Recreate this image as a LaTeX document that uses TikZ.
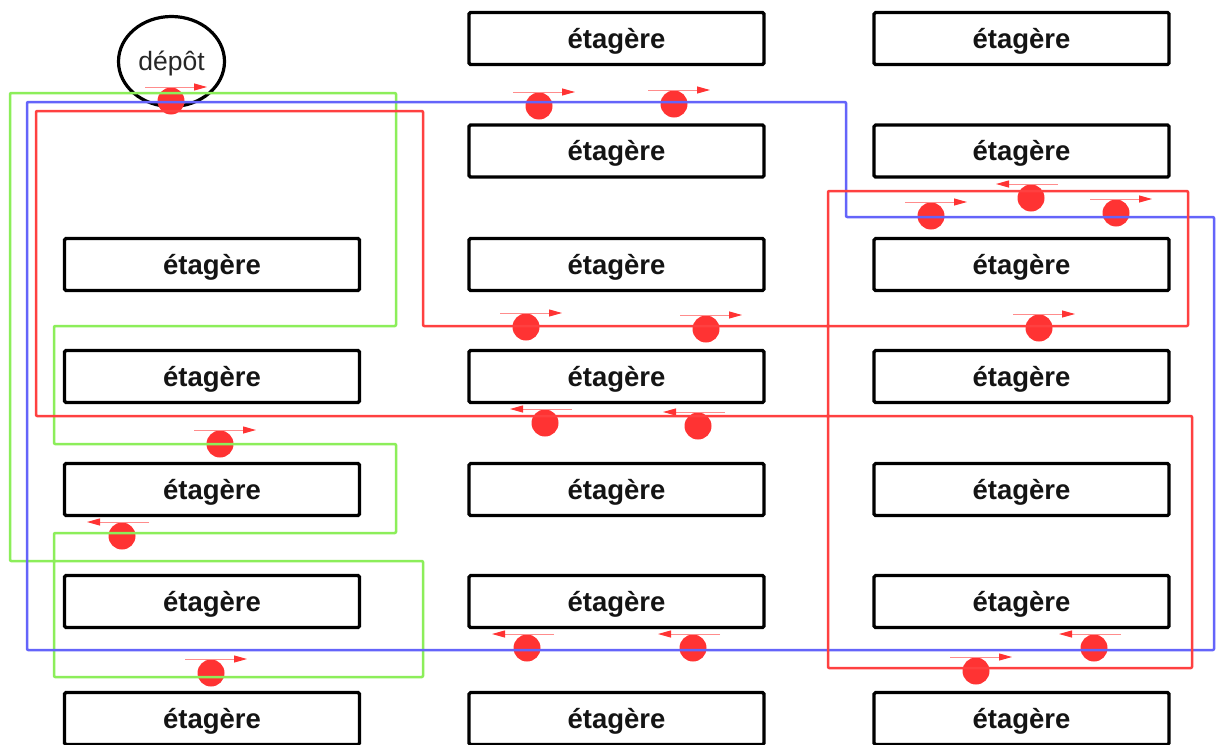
\documentclass[tikz,border=0pt]{standalone}
\usepackage{fontspec}
\setmainfont{Liberation Sans}
\usetikzlibrary{arrows.meta,shapes.geometric}
\definecolor{pgreen}{HTML}{8CEE5A}
\definecolor{pblue}{HTML}{6464FA}
\definecolor{pred}{HTML}{FF4040}
\definecolor{dotred}{HTML}{FF3333}
\definecolor{arrline}{HTML}{FF8C8C}
\newcommand{\shelftext}{\raisebox{-9.5pt}[0pt][0pt]{étagère}}
\begin{document}
\begin{tikzpicture}[x=1pt,y=-1pt,
 shelf/.style={draw=black, line width=3.2pt, rounded corners=1.5pt, fill=white, minimum width=295pt, minimum height=52pt, inner sep=0pt, font=\fontsize{27.5}{30}\selectfont\bfseries, text=black!92},
 depot/.style={ellipse, draw=black, line width=3.2pt, minimum width=106pt, minimum height=90pt, inner sep=0pt, font=\fontsize{26.5}{30}\selectfont, text=black!85},
 robot/.style={circle, fill=dotred, minimum size=27pt, inner sep=0pt},
 rarr/.style={draw=arrline, line width=1pt, -{Triangle[length=13pt,width=7pt,fill=dotred,color=dotred]}},
 route/.style={line width=2.5pt, line join=round, rounded corners=1pt}]
\fill[white] (0,0) rectangle (1220,744);
\useasboundingbox (0,0) rectangle (1220,744);
% shelves
\foreach \r/\y in {3/264.5,4/376.5,5/489.5,6/601.5,7/718.5}
  \node[shelf] (a\r) at (212,\y) {\shelftext};
\foreach \r/\y in {1/38.5,2/151,3/264.5,4/376.5,5/489.5,6/601.5,7/718.5}{
  \node[shelf] (b\r) at (616.5,\y) {\shelftext};
  \node[shelf] (c\r) at (1021.5,\y) {\shelftext};
}
% depot
\node[depot] (depot) at (171.5,61.5) {\raisebox{-8.5pt}[0pt][0pt]{dépôt}};
% robots moving right
\foreach \n/\x/\y in {1/171/101,2/539/106,3/674/104,4/931/216,6/1116/213,7/526/327,8/706/329,9/1039/328,12/220/444,14/211/673,18/976/671}{
  \node[robot] (r\n) at (\x,\y) {};
  \draw[rarr] ([shift={(-26pt,14pt)}]r\n.center) -- ++(62pt,0pt);
}
% robots moving left
\foreach \n/\x/\y in {5/1031/198,10/545/423,11/698/426,13/122/536,15/527/648,16/693/648,17/1094/648}{
  \node[robot] (r\n) at (\x,\y) {};
  \draw[rarr] ([shift={(27pt,14pt)}]r\n.center) -- ++(-62pt,0pt);
}
% routes
\draw[route, pgreen] (10,93) -- (396,93) -- (396,326) -- (54,326) -- (54,444) -- (396,444) -- (396,533) -- (54,533) -- (54,677) -- (423,677) -- (423,561) -- (10,561) -- cycle;
\draw[route, pblue] (27,102) -- (846,102) -- (846,217) -- (1214,217) -- (1214,650) -- (27,650) -- cycle;
\draw[route, pred] (36,111) -- (423,111) -- (423,326) -- (1188,326) -- (1188,191) -- (828,191) -- (828,668) -- (1192,668) -- (1192,416) -- (36,416) -- cycle;
\end{tikzpicture}
\end{document}
